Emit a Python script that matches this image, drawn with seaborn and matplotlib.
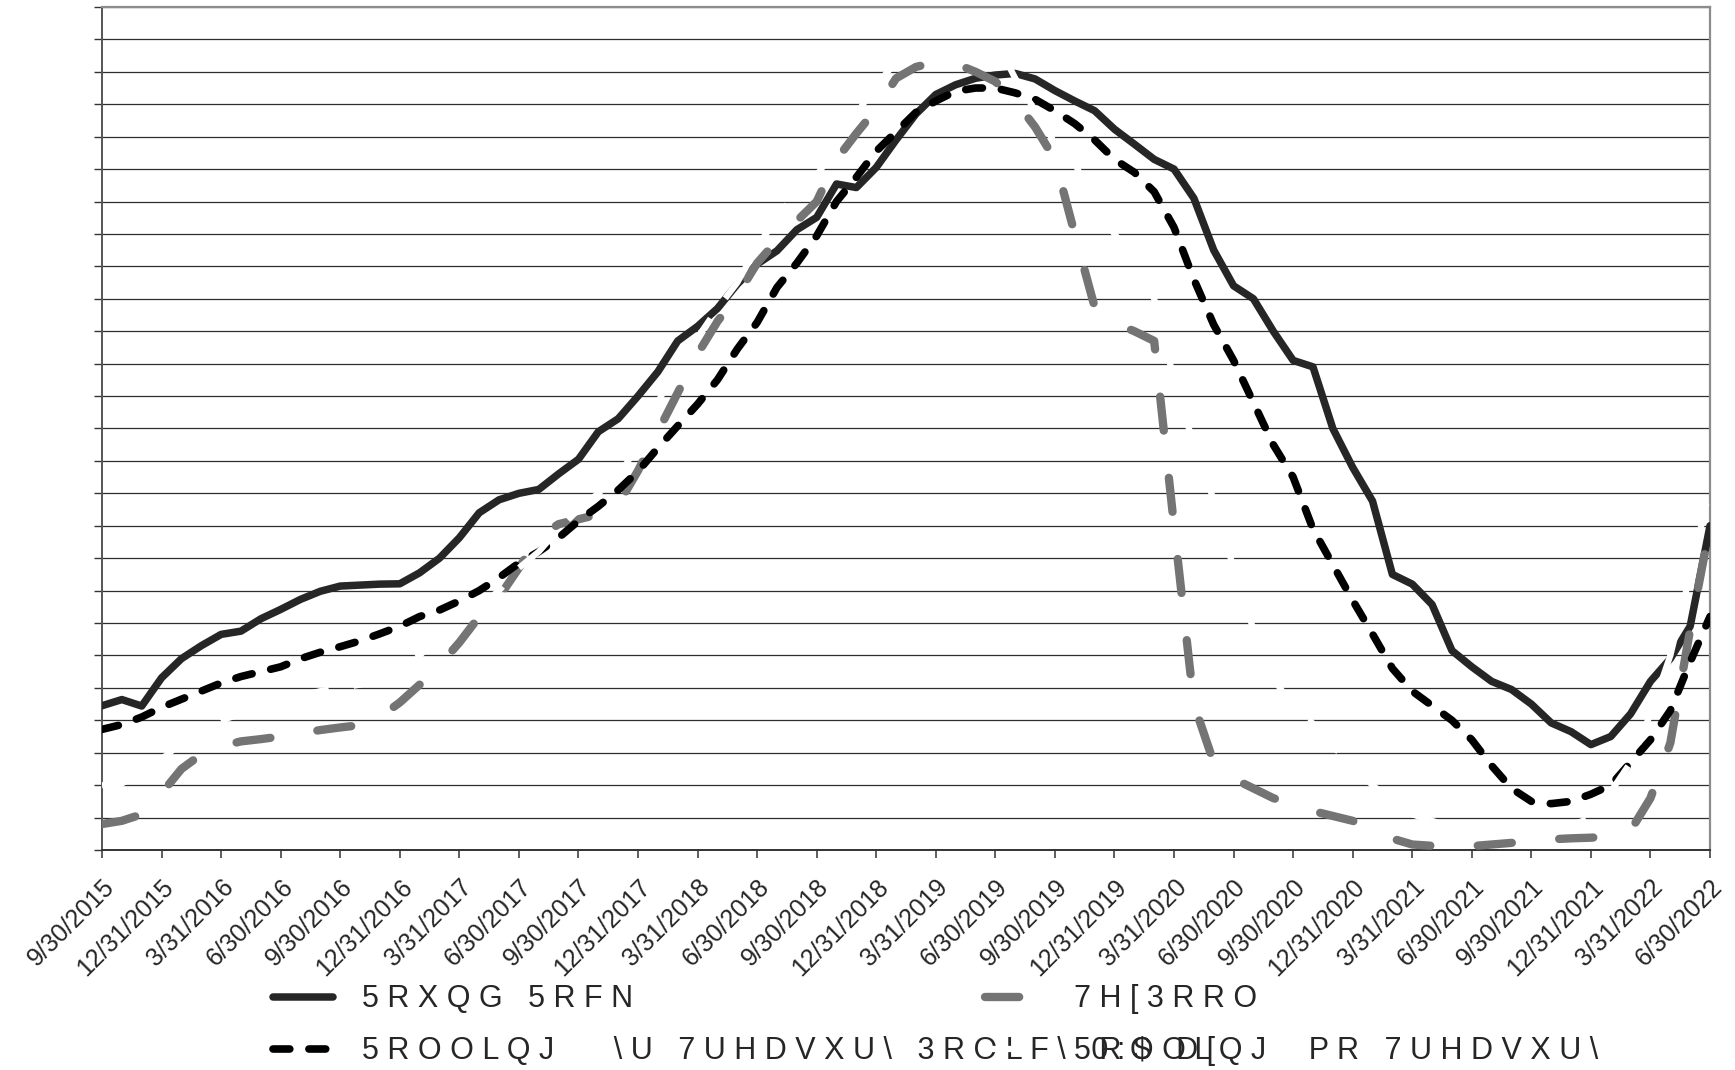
import matplotlib
matplotlib.use("Agg")
import matplotlib.pyplot as plt
import numpy as np
import pandas as pd
import seaborn as sns

# monthly values, 9/30/2015 .. 6/30/2022 (82 months)
round_rock = [
    0.445, 0.464, 0.444, 0.531, 0.590, 0.630, 0.665, 0.675, 0.713, 0.742,
    0.773, 0.798, 0.814, 0.817, 0.820, 0.821, 0.855, 0.900, 0.963, 1.040,
    1.080, 1.100, 1.112, 1.160, 1.205, 1.290, 1.330, 1.400, 1.475, 1.570,
    1.615, 1.670, 1.745, 1.807, 1.848, 1.913, 1.951, 2.054, 2.043, 2.105,
    2.190, 2.270, 2.330, 2.360, 2.380, 2.390, 2.395, 2.378, 2.342, 2.310,
    2.280, 2.223, 2.177, 2.130, 2.100, 2.010, 1.850, 1.740, 1.700, 1.600,
    1.510, 1.490, 1.300, 1.180, 1.076, 0.850, 0.820, 0.757, 0.615, 0.565,
    0.520, 0.495, 0.450, 0.392, 0.365, 0.325, 0.350, 0.420, 0.520, 0.590,
    0.690, 1.000,
]
texpool = [
    0.080, 0.090, 0.110, 0.175, 0.250, 0.295, 0.320, 0.335, 0.342, 0.350,
    0.360, 0.370, 0.378, 0.385, 0.410, 0.455, 0.510, 0.570, 0.640, 0.720,
    0.780, 0.870, 0.965, 1.005, 1.020, 1.035, 1.065, 1.170, 1.290, 1.410,
    1.530, 1.630, 1.710, 1.810, 1.880, 1.940, 2.000, 2.130, 2.210, 2.285,
    2.380, 2.415, 2.430, 2.425, 2.400, 2.370, 2.310, 2.230, 2.130, 1.900,
    1.675, 1.625, 1.600, 1.570, 1.000, 0.450, 0.270, 0.220, 0.190, 0.160,
    0.140, 0.120, 0.105, 0.090, 0.065, 0.035, 0.017, 0.013, 0.010, 0.012,
    0.017, 0.022, 0.027, 0.033, 0.036, 0.038, 0.042, 0.060, 0.160, 0.330,
    0.680, 1.000,
]
rolling_2yr = [
    0.372, 0.387, 0.410, 0.440, 0.465, 0.490, 0.515, 0.535, 0.550, 0.565,
    0.590, 0.610, 0.627, 0.645, 0.667, 0.690, 0.720, 0.740, 0.768, 0.800,
    0.840, 0.885, 0.920, 0.963, 1.015, 1.060, 1.110, 1.168, 1.240, 1.308,
    1.375, 1.450, 1.545, 1.627, 1.735, 1.810, 1.894, 2.000, 2.075, 2.155,
    2.215, 2.275, 2.310, 2.340, 2.350, 2.350, 2.335, 2.315, 2.280, 2.240,
    2.190, 2.130, 2.090, 2.030, 1.920, 1.760, 1.620, 1.510, 1.380, 1.250,
    1.150, 0.990, 0.880, 0.770, 0.666, 0.560, 0.490, 0.445, 0.400, 0.340,
    0.260, 0.190, 0.150, 0.143, 0.150, 0.172, 0.200, 0.270, 0.340, 0.430,
    0.580, 0.720,
]
rolling_mo = [
    0.200, 0.205, 0.240, 0.280, 0.330, 0.370, 0.400, 0.420, 0.440, 0.460,
    0.475, 0.490, 0.500, 0.510, 0.545, 0.575, 0.600, 0.660, 0.700, 0.750,
    0.800, 0.870, 0.920, 0.990, 1.050, 1.100, 1.150, 1.250, 1.380, 1.500,
    1.580, 1.670, 1.750, 1.860, 1.950, 2.030, 2.080, 2.170, 2.270, 2.360,
    2.430, 2.470, 2.510, 2.550, 2.550, 2.500, 2.380, 2.280, 2.180, 2.120,
    1.980, 1.900, 1.820, 1.700, 1.450, 1.250, 1.080, 0.870, 0.680, 0.530,
    0.440, 0.390, 0.320, 0.260, 0.200, 0.150, 0.110, 0.090, 0.070, 0.060,
    0.060, 0.060, 0.060, 0.065, 0.075, 0.100, 0.180, 0.270, 0.420, 0.600,
    0.850, 1.120,
]
quarter_labels = [
    "9/30/2015", "12/31/2015", "3/31/2016", "6/30/2016", "9/30/2016",
    "12/31/2016", "3/31/2017", "6/30/2017", "9/30/2017", "12/31/2017",
    "3/31/2018", "6/30/2018", "9/30/2018", "12/31/2018", "3/31/2019",
    "6/30/2019", "9/30/2019", "12/31/2019", "3/31/2020", "6/30/2020",
    "9/30/2020", "12/31/2020", "3/31/2021", "6/30/2021", "9/30/2021",
    "12/31/2021", "3/31/2022", "6/30/2022",
]
# legend texts as they appear (shifted glyph encoding)
label_round_rock = "5RXQG 5RFN"
label_texpool = "7H[3RRO"
label_rolling_2yr = "5ROOLQJ   \\U 7UHDVXU\\ 3ROLF\\ 0:$ D["
label_rolling_mo = "5ROOLQJ  PR 7UHDVXU\\"


def spread(text: str) -> str:
    return " ".join(text)


def main() -> None:
    sns.set_style("white")
    plt.rcParams["font.family"] = ["Liberation Sans", "DejaVu Sans"]

    df = pd.DataFrame({
        "month": np.arange(len(round_rock)),
        "round_rock": round_rock,
        "texpool": texpool,
        "rolling_2yr": rolling_2yr,
        "rolling_mo": rolling_mo,
    })

    fig = plt.figure(figsize=(17.35, 10.70), dpi=100)
    ax = fig.add_axes([0.0588, 0.2056, 0.9268, 0.7879])

    sns.lineplot(data=df, x="month", y="round_rock", ax=ax, color="#262626",
                 linewidth=5.4, zorder=3, estimator=None)
    h_rr = ax.lines[-1]
    sns.lineplot(data=df, x="month", y="texpool", ax=ax, color="#747474",
                 linewidth=6.0, linestyle=(0, (4.1, 5.7)), dash_capstyle="round",
                 zorder=4, estimator=None)
    h_tp = ax.lines[-1]
    sns.lineplot(data=df, x="month", y="rolling_2yr", ax=ax, color="black",
                 linewidth=5.5, linestyle=(0, (2.2, 2.5)), dash_capstyle="round",
                 zorder=5, estimator=None)
    h_r2 = ax.lines[-1]
    sns.lineplot(data=df, x="month", y="rolling_mo", ax=ax, color="white",
                 linewidth=4.5, linestyle=(0, (7, 4)), zorder=6, estimator=None)
    h_mo = ax.lines[-1]

    ax.set_xlim(0, len(round_rock) - 1)
    ax.set_ylim(0, 2.6)
    ax.set_yticks(np.arange(0, 2.61, 0.1))
    ax.tick_params(axis="y", left=True, labelleft=False, length=5.8, width=1.0,
                   color="#333333")
    ax.set_xticks(np.arange(0, len(round_rock), 3))
    ax.set_xticklabels(quarter_labels, rotation=45, ha="right", va="top",
                       rotation_mode="anchor", fontsize=18)
    ax.tick_params(axis="x", bottom=True, length=6, width=1.1, color="#333333",
                   pad=12)
    ax.set_xlabel("")
    ax.set_ylabel("")
    ax.grid(axis="y", color="#2e2e2e", linewidth=0.9)
    ax.set_axisbelow(True)

    for side in ("top", "right"):
        ax.spines[side].set_color("#8c8c8c")
        ax.spines[side].set_linewidth(1.6)
    ax.spines["left"].set_color("#555555")
    ax.spines["left"].set_linewidth(1.4)
    ax.spines["bottom"].set_color("#333333")
    ax.spines["bottom"].set_linewidth(1.4)

    legend_font = {"family": ["Liberation Sans", "DejaVu Sans"], "size": 22}
    leg_kw = dict(loc="upper left", frameon=False, prop=legend_font,
                  handlelength=1.95, handletextpad=0.95, labelspacing=0.72,
                  borderpad=0, borderaxespad=0, bbox_transform=fig.transFigure)
    leg1 = ax.legend([h_rr, h_r2], [spread(label_round_rock), spread(label_rolling_2yr)],
                     bbox_to_anchor=(273 / 1735, 0.080), **leg_kw)
    ax.add_artist(leg1)
    ax.legend([h_tp, h_mo], [spread(label_texpool), spread(label_rolling_mo)],
              bbox_to_anchor=(985 / 1735, 0.080), **leg_kw)

    fig.savefig("out.png", dpi=100)
    plt.close(fig)


if __name__ == "__main__":
    main()
